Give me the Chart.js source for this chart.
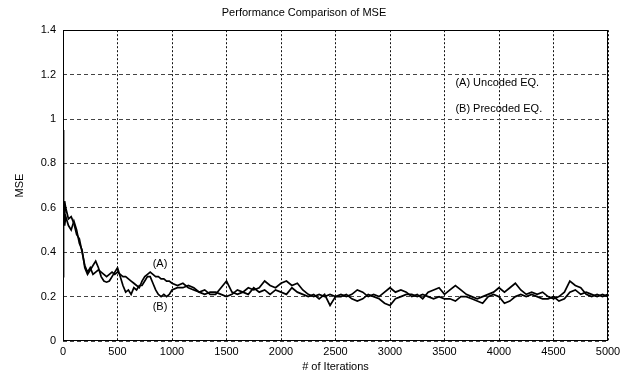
<!DOCTYPE html>
<html><head><meta charset="utf-8">
<script src="https://cdn.jsdelivr.net/npm/chart.js@4"></script>
<style>html,body{margin:0;padding:0;background:#fff}#wrap{width:640px;height:375px;position:relative}</style>
</head><body><div id="wrap"><canvas id="c"></canvas></div>
<script>
const iterations = [0,5,10,15,25,50,75,100,125,150,175,200,225,250,275,300,325,350,375,400,425,450,475,500,525,550,575,600,625,650,675,700,725,750,775,800,825,850,875,900,925,950,975,1000,
1050,1100,1150,1200,1250,1300,1350,1400,1450,1500,1550,1600,1650,1700,1750,1800,1850,1900,1950,2000,
2050,2100,2150,2200,2250,2300,2350,2400,2450,2500,2550,2600,2650,2700,2750,2800,2850,2900,2950,3000,
3050,3100,3150,3200,3250,3300,3350,3400,3450,3500,3550,3600,3650,3700,3750,3800,3850,3900,3950,4000,
4050,4100,4150,4200,4250,4300,4350,4400,4450,4500,4550,4600,4650,4700,4750,4800,4850,4900,4950,5000];
const mseUncoded = [0.95,0.62,0.58,0.63,0.60,0.55,0.56,0.53,0.48,0.46,0.40,0.34,0.31,0.33,0.30,0.31,0.32,0.31,0.30,0.29,0.30,0.31,0.30,0.31,0.30,0.29,0.29,0.28,0.27,0.26,0.25,0.24,0.27,0.29,0.30,0.31,0.30,0.29,0.29,0.28,0.28,0.27,0.27,0.26,
0.25,0.26,0.24,0.23,0.22,0.23,0.21,0.21,0.24,0.27,0.22,0.21,0.22,0.24,0.23,0.24,0.27,0.25,0.24,0.26,
0.27,0.25,0.26,0.23,0.21,0.20,0.21,0.20,0.21,0.20,0.21,0.20,0.21,0.23,0.22,0.20,0.21,0.20,0.22,0.24,
0.22,0.23,0.22,0.20,0.21,0.19,0.22,0.23,0.24,0.21,0.23,0.25,0.23,0.21,0.20,0.19,0.20,0.21,0.22,0.24,
0.22,0.24,0.26,0.23,0.21,0.22,0.21,0.22,0.20,0.19,0.20,0.22,0.27,0.25,0.24,0.21,0.20,0.21,0.20,0.21];
const msePrecoded = [0.29,0.55,0.60,0.52,0.56,0.52,0.50,0.54,0.50,0.44,0.41,0.33,0.30,0.32,0.34,0.36,0.33,0.29,0.27,0.265,0.27,0.29,0.31,0.33,0.29,0.25,0.22,0.23,0.21,0.24,0.23,0.25,0.25,0.27,0.29,0.29,0.26,0.23,0.21,0.20,0.21,0.20,0.21,0.23,
0.24,0.24,0.25,0.24,0.22,0.21,0.22,0.22,0.21,0.20,0.21,0.23,0.22,0.21,0.24,0.22,0.23,0.21,0.23,0.22,
0.21,0.24,0.22,0.21,0.20,0.21,0.19,0.21,0.16,0.20,0.20,0.21,0.19,0.18,0.19,0.21,0.20,0.19,0.17,0.16,
0.19,0.20,0.21,0.21,0.20,0.21,0.20,0.19,0.20,0.19,0.19,0.18,0.20,0.20,0.19,0.18,0.17,0.20,0.21,0.20,
0.17,0.18,0.20,0.21,0.20,0.21,0.20,0.19,0.19,0.20,0.18,0.19,0.22,0.23,0.21,0.22,0.21,0.20,0.21,0.20];
const xTickLabels = ['0','500','1000','1500','2000','2500','3000','3500','4000','4500','5000'];
const yTickLabels = ['0','0.2','0.4','0.6','0.8','1','1.2','1.4'];
const seriesNames = ['(A) Uncoded EQ.', '(B) Precoded EQ.'];
const curveTags = ['(A)', '(B)'];

const FONT = '"Liberation Sans", Arial, sans-serif';

const boxPlugin = {
  id: 'boxAndText',
  afterDatasetsDraw(chart) {
    const {ctx, chartArea: a, scales: {x, y}} = chart;
    ctx.save();
    ctx.strokeStyle = '#000';
    ctx.lineWidth = 1;
    ctx.setLineDash([]);
    ctx.strokeRect(Math.round(a.left) + 0.5, Math.round(a.top) + 0.5,
      Math.round(a.right - a.left) - 1, Math.round(a.bottom - a.top) - 1);
    ctx.font = '11px ' + FONT;
    ctx.fillStyle = '#000';
    ctx.textBaseline = 'middle';
    ctx.textAlign = 'left';
    ctx.fillText(seriesNames[0], x.getPixelForValue(3600), y.getPixelForValue(1.162));
    ctx.fillText(seriesNames[1], x.getPixelForValue(3600), y.getPixelForValue(1.045));
    ctx.textAlign = 'center';
    ctx.fillText(curveTags[0], x.getPixelForValue(890), y.getPixelForValue(0.347));
    ctx.fillText(curveTags[1], x.getPixelForValue(890), y.getPixelForValue(0.153));
    ctx.restore();
  }
};

new Chart(document.getElementById('c'), {
  type: 'line',
  data: {
    datasets: [
      { label: seriesNames[0], data: iterations.map((it, i) => ({x: it, y: mseUncoded[i]})),
        borderColor: '#000', borderWidth: 1.7, pointRadius: 0, tension: 0, fill: false },
      { label: seriesNames[1], data: iterations.map((it, i) => ({x: it, y: msePrecoded[i]})),
        borderColor: '#000', borderWidth: 1.7, pointRadius: 0, tension: 0, fill: false }
    ]
  },
  options: {
    responsive: true,
    maintainAspectRatio: false,
    animation: false,
    layout: { padding: { left: 0, right: 32, top: 0, bottom: 0 } },
    plugins: {
      legend: { display: false },
      tooltip: { enabled: false },
      title: {
        display: true,
        text: 'Performance Comparison of MSE',
        color: '#000',
        font: { family: FONT, size: 11, weight: 'normal' },
        padding: { top: 6, bottom: 11 }
      }
    },
    scales: {
      x: {
        type: 'linear', min: 0, max: 5000,
        afterFit(s) { s.height = 34; },
        ticks: {
          stepSize: 500, autoSkip: false, maxRotation: 0, padding: 4, color: '#000',
          font: { family: FONT, size: 11 },
          callback: (v) => xTickLabels[Math.round(v / 500)]
        },
        grid: { color: '#111', lineWidth: 1, drawTicks: false },
        border: { display: false, dash: [2, 2] },
        title: {
          display: true, text: '# of Iterations', color: '#000',
          font: { family: FONT, size: 11 }, padding: { top: 0, bottom: 1 }
        }
      },
      y: {
        type: 'linear', min: 0, max: 1.4,
        afterFit(s) { s.width = 63; },
        ticks: {
          stepSize: 0.2, autoSkip: false, padding: 7, color: '#000',
          font: { family: FONT, size: 11 },
          callback: (v) => yTickLabels[Math.round(v / 0.2)]
        },
        grid: { color: '#444', lineWidth: 1, drawTicks: false },
        border: { display: false, dash: [4, 3] },
        title: {
          display: true, text: 'MSE', color: '#000',
          font: { family: FONT, size: 11 }, padding: { top: 13, bottom: 0 }
        }
      }
    }
  },
  plugins: [boxPlugin]
});
</script>
</body></html>
